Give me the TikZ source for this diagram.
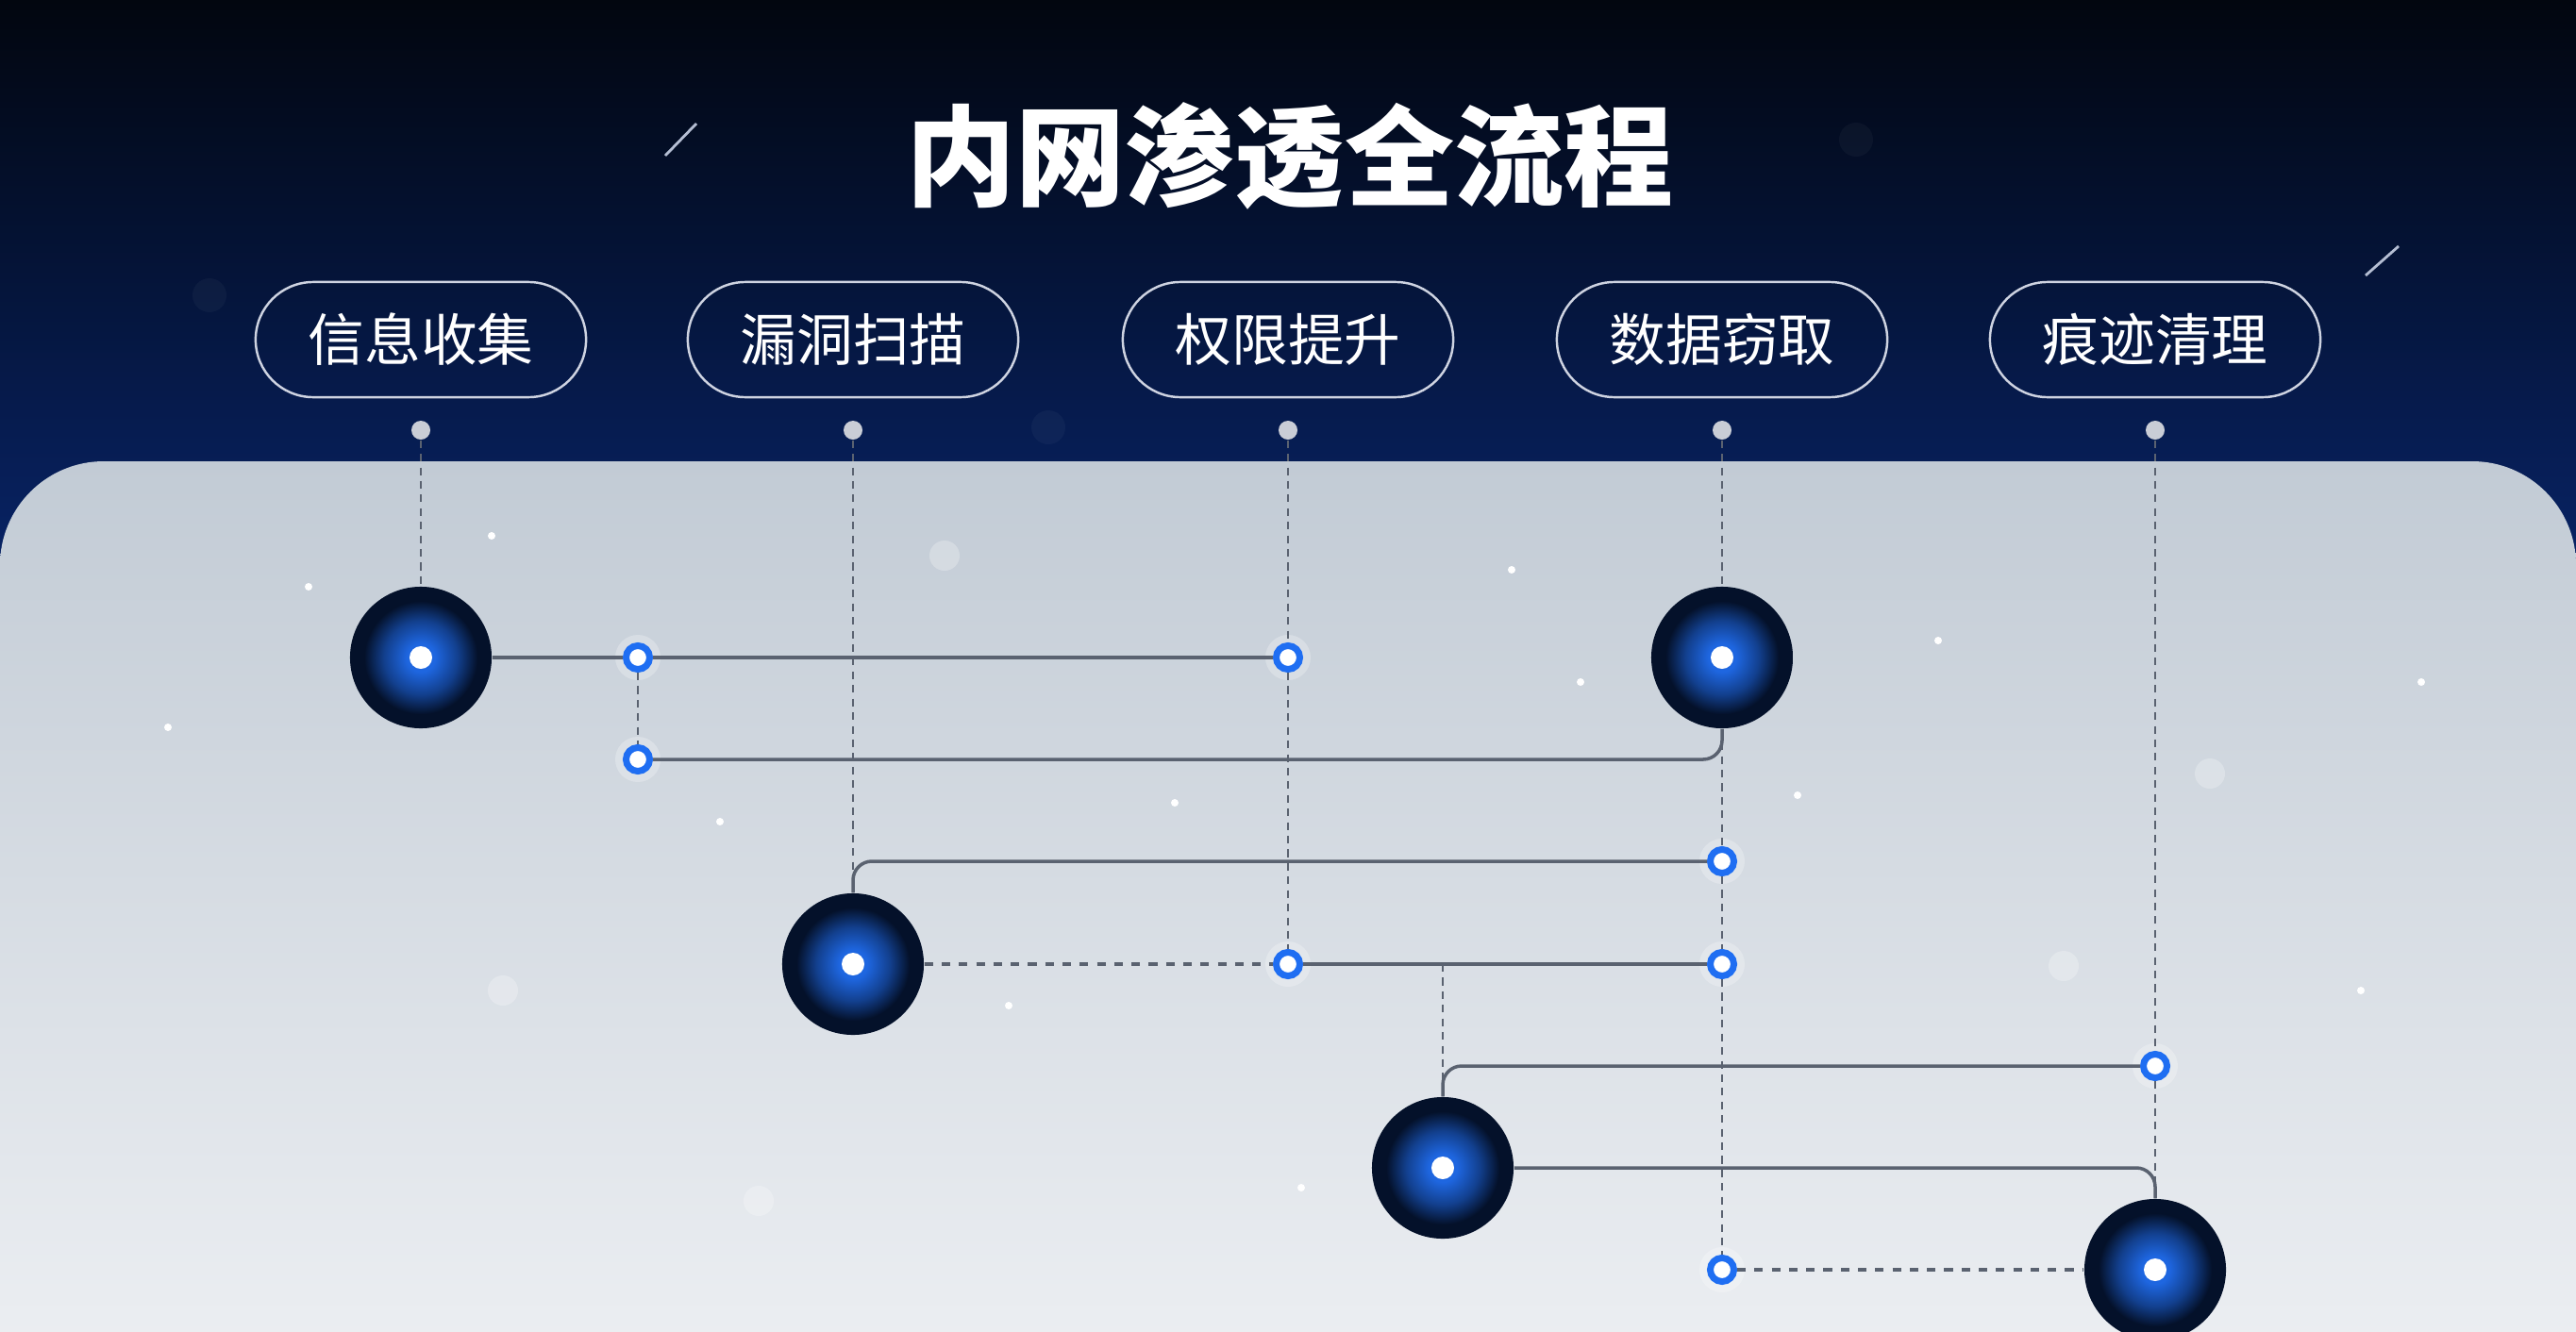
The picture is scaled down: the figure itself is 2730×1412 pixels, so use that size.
\documentclass[tikz,border=0pt]{standalone}
\usepackage{fontspec}
\newfontfamily\cjk{Noto Sans CJK SC}
\definecolor{skytop}{HTML}{02060F}
\definecolor{skymid}{HTML}{041634}
\definecolor{skybot}{HTML}{08256B}
\definecolor{paneltop}{HTML}{C2CBD5}
\definecolor{panelbot}{HTML}{F0F2F5}
\definecolor{hubout}{HTML}{04112A}
\definecolor{hubin}{HTML}{1E66E0}
\definecolor{ringblue}{HTML}{1F6EF2}
\definecolor{wiregray}{HTML}{5A6270}
\definecolor{pingray}{HTML}{C9CDD6}
\pgfdeclareradialshading{hubglow}{\pgfpoint{0bp}{0bp}}{color(0bp)=(hubin); color(5bp)=(hubin);
  color(13bp)=(hubin!55!hubout); color(20bp)=(hubout); color(25bp)=(hubout); color(50bp)=(hubout)}
\begin{document}
\begin{tikzpicture}[x=0.01cm,y=-0.01cm,
  hub/.style={circle,minimum size=1.5cm,inner sep=0pt,shading=hubglow,
    path picture={\fill[white] (path picture bounding box.center) circle [radius=0.12cm];}},
  ring/.style={circle,minimum size=0.25cm,inner sep=0pt,fill=white,draw=ringblue,line width=0.07cm},
  pill/.style={draw=white!80!skybot,line width=0.7pt,rounded corners=0.61cm,minimum width=3.5cm,
    minimum height=1.22cm,text=white,font=\cjk\fontsize{17}{20}\selectfont},
  pin/.style={circle,fill=pingray,minimum size=0.2cm,inner sep=0pt},
  wire/.style={draw=wiregray,line width=1pt,rounded corners=0.2cm},
  guide/.style={draw=wiregray,line width=0.6pt,dash pattern=on 2.3pt off 1.8pt},
  dots/.style={draw=wiregray,line width=1.2pt,dash pattern=on 2.6pt off 2.6pt}]
\useasboundingbox (0,0) rectangle (2730,1412);
\clip (0,0) rectangle (2730,1412);

% sky and panel
\shade[top color=skytop,middle color=skymid,bottom color=skybot] (0,0) rectangle (2730,640);
\shade[top color=paneltop,bottom color=panelbot,rounded corners=1.1cm] (0,489) rectangle (2730,1530);
\draw[white!70!skybot,line width=0.8pt] (705,165) -- (738,131);
\draw[white!70!skybot,line width=0.8pt] (2507,292) -- (2542,261);
\foreach \px/\py in {222/313, 1111/453, 1967/148}
  \fill[white,opacity=0.035] (\px,\py) circle [radius=18];
\foreach \px/\py in {521/568, 327/622, 178/771, 763/871, 1245/851, 1602/604, 1675/723, 2054/679,
  1905/843, 2566/723, 1069/1066, 1379/1259, 2502/1050}
  \fill[white] (\px,\py) circle [radius=4];
\foreach \px/\py in {533/1050, 804/1273, 2187/1024, 2342/820, 1001/589}
  \fill[white,opacity=0.25] (\px,\py) circle [radius=16];

\node[text=white,font=\cjk\bfseries\fontsize{33}{40}\selectfont] (title) at (1367,165) {内网渗透全流程};

\foreach \name/\px/\txt in {1/446/信息收集, 2/904/漏洞扫描, 3/1365/权限提升, 4/1825/数据窃取, 5/2284/痕迹清理}
{
  \node[pill] (l\name) at (\px,360) {\txt};
  \node[pin] (p\name) at (\px,456) {};
}

\node[hub] (A) at (446,697) {};
\node[hub] (D) at (1825,697) {};
\node[hub] (B) at (904,1022) {};
\node[hub] (C) at (1529,1238) {};
\node[hub] (E) at (2284,1346) {};
\foreach \name/\px/\py in {r1/676/697, r2/1365/697, r3/676/805, r4/1825/913,
  r5/1365/1022, r6/1825/1022, r7/2284/1130, r8/1825/1346}
{
  \fill[white,opacity=0.25] (\px,\py) circle [radius=24];
  \node[ring] (\name) at (\px,\py) {};
}
\coordinate (j) at (C |- r5);

% guides
\draw[guide] (p1) -- (A);
\draw[guide] (p2) -- (B);
\draw[guide] (p3) -- (r2);
\draw[guide] (r2) -- (r5);
\draw[guide] (p4) -- (D);
\draw[guide] (D) -- (r4);
\draw[guide] (r4) -- (r6);
\draw[guide] (r6) -- (r8);
\draw[guide] (p5) -- (r7);
\draw[guide] (r7) -- (E);
\draw[guide] (r1) -- (r3);
\draw[guide] (j) -- (C);

% wires
\draw[wire] (A) -- (r1);
\draw[wire] (r1) -- (r2);
\draw[wire] (r3) -| (D);
\draw[wire] (B) |- (r4);
\draw[dots] (B) -- (r5);
\draw[wire] (r5) -- (r6);
\draw[wire] (C) |- (r7);
\draw[wire] (C) -| (E);
\draw[dots] (r8) -- (E);
\end{tikzpicture}
\end{document}
